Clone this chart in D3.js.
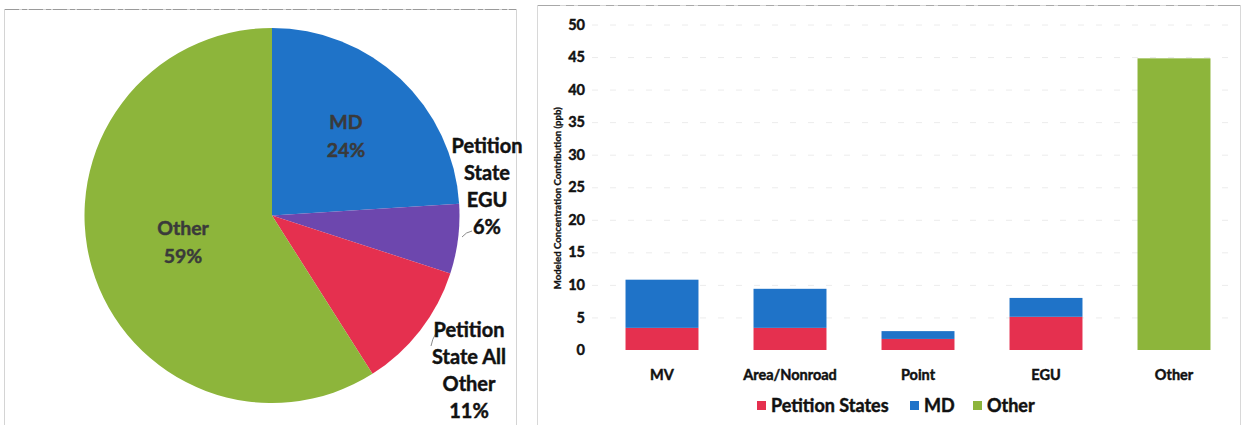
<!DOCTYPE html>
<html>
<head>
<meta charset="utf-8">
<script src="https://cdn.jsdelivr.net/npm/d3@7"></script>
<style>
  html, body { margin: 0; padding: 0; background: #fff; }
  svg { display: block; font-family: Lato, "Open Sans", sans-serif; }
  .heavy { stroke-width: 0.45px; paint-order: stroke; }
</style>
</head>
<body>
<svg id="chart" width="1242" height="425"></svg>
<script>
// Share of modeled concentration by source (percent)
const pieLabels = ["MD", "Petition State EGU", "Petition State All Other", "Other"];
const pieValues = [24, 6, 11, 59];
const pieColors = ["#1f73c8", "#6d47ae", "#e5304f", "#8db53b"];

// Stacked contributions by sector (ppb)
const sectors = ["MV", "Area/Nonroad", "Point", "EGU", "Other"];
const petitionStates = [3.4, 3.4, 1.7, 5.1, 0];
const md = [7.4, 6.0, 1.2, 2.9, 0];
const other = [0, 0, 0, 0, 44.8];
const seriesNames = ["Petition States", "MD", "Other"];
const seriesColors = ["#e5304f", "#1f73c8", "#8db53b"];
const yTicks = [0, 5, 10, 15, 20, 25, 30, 35, 40, 45, 50];

const svg = d3.select("#chart");

// Panel frames
svg.append("rect").attr("x", 4.5).attr("y", 9.5).attr("width", 512).attr("height", 420)
  .attr("fill", "none").attr("stroke", "#d4d4d4");
svg.append("line").attr("x1", 5).attr("x2", 516).attr("y1", 9.5).attr("y2", 9.5)
  .attr("stroke", "#9a9a9a").attr("stroke-dasharray", "14 3 5 2");
svg.append("rect").attr("x", 537.5).attr("y", 5.5).attr("width", 703).attr("height", 424)
  .attr("fill", "none").attr("stroke", "#d8d8d8");
svg.append("line").attr("x1", 538).attr("x2", 1240).attr("y1", 5.5).attr("y2", 5.5)
  .attr("stroke", "#a8a8a8").attr("stroke-dasharray", "22 6 8 4");

// ---- Pie ----
const cx = 272, cy = 215.5, r = 187.5;
const pie = d3.pie().sort(null).value(d => d)(pieValues);
const arc = d3.arc().innerRadius(0).outerRadius(r);
const gPie = svg.append("g").attr("transform", `translate(${cx},${cy})`);
gPie.selectAll("path").data(pie).join("path")
  .attr("d", arc)
  .attr("fill", (d, i) => pieColors[i]);

// Inside labels
const inner = [
  { i: 0, lines: ["MD", pieValues[0] + "%"], x: 346, y: 129 },
  { i: 3, lines: ["Other", pieValues[3] + "%"], x: 183, y: 235 }
];
inner.forEach(l => {
  const t = svg.append("text").attr("class", "heavy").attr("text-anchor", "middle")
    .attr("font-size", 19.5).attr("font-weight", 700).attr("fill", "#3a3a3a").attr("stroke", "#3a3a3a");
  l.lines.forEach((s, k) => t.append("tspan").attr("x", l.x).attr("y", l.y + k * 28).text(s));
});

// Outside labels with leader lines
const outer = [
  { lines: ["Petition", "State", "EGU", pieValues[1] + "%"], x: 487, y: 153, leader: "M462,237 Q466,232 472,231" },
  { lines: ["Petition", "State All", "Other", pieValues[2] + "%"], x: 469, y: 337, leader: "M431,346 Q434,331 442,330" }
];
outer.forEach(l => {
  svg.append("path").attr("d", l.leader).attr("fill", "none").attr("stroke", "#8a8a8a").attr("stroke-width", 1);
  const t = svg.append("text").attr("class", "heavy").attr("text-anchor", "middle")
    .attr("font-size", 20).attr("font-weight", 700).attr("fill", "#111").attr("stroke", "#111");
  l.lines.forEach((s, k) => t.append("tspan").attr("x", l.x).attr("y", l.y + k * 27).text(s));
});

// ---- Stacked bars ----
const x = d3.scaleBand().domain(sectors).range([598, 1238]).paddingInner(0.43).paddingOuter(0.215);
const y = d3.scaleLinear().domain([0, 50]).range([350, 24.5]);

// Gridlines
svg.append("g").selectAll("line").data(yTicks.filter(v => v > 0)).join("line")
  .attr("x1", 592).attr("x2", 1236)
  .attr("y1", d => y(d) + 0.5).attr("y2", d => y(d) + 0.5)
  .attr("stroke", "#ececec").attr("stroke-dasharray", "6 12");

// Y axis tick labels
const yAxis = d3.axisLeft(y).tickValues(yTicks).tickSize(0).tickPadding(0);
const gy = svg.append("g").attr("transform", "translate(585,0)").call(yAxis);
gy.select(".domain").remove();
gy.selectAll("text").attr("class", "heavy").attr("font-size", 14.5).attr("font-weight", 700)
  .attr("fill", "#111").attr("stroke", "#111").attr("font-family", "Lato, sans-serif");

// Y axis title
svg.append("text")
  .attr("class", "heavy")
  .attr("transform", `translate(561,${y(25) + 11}) rotate(-90)`)
  .attr("text-anchor", "middle").attr("font-size", 9.6).attr("font-weight", 700)
  .attr("fill", "#111").attr("stroke", "#111").style("stroke-width", "0.3px")
  .text("Modeled Concentration Contribution (ppb)");

const rows = sectors.map((s, i) => ({ sector: s, "Petition States": petitionStates[i], "MD": md[i], "Other": other[i] }));
const stack = d3.stack().keys(seriesNames)(rows);
svg.append("g").selectAll("g").data(stack).join("g")
  .attr("fill", (d, i) => seriesColors[i])
  .selectAll("rect").data(d => d.filter(p => p[1] > p[0])).join("rect")
  .attr("x", d => x(d.data.sector))
  .attr("width", x.bandwidth())
  .attr("y", d => y(d[1]))
  .attr("height", d => y(d[0]) - y(d[1]));

// X axis labels
const xAxis = d3.axisBottom(x).tickSize(0).tickPadding(0);
const gx = svg.append("g").attr("transform", "translate(0,370)").call(xAxis);
gx.select(".domain").remove();
gx.selectAll("text").attr("class", "heavy").attr("font-size", 14.5).attr("font-weight", 700)
  .attr("fill", "#111").attr("stroke", "#111").attr("font-family", "Lato, sans-serif");

// Legend
const legendX = [757, 910, 973];
const gl = svg.append("g");
seriesNames.forEach((n, i) => {
  gl.append("rect").attr("x", legendX[i]).attr("y", 401).attr("width", 9).attr("height", 9).attr("fill", seriesColors[i]);
  gl.append("text").attr("class", "heavy").attr("x", legendX[i] + 14).attr("y", 412)
    .attr("font-size", 18).attr("font-weight", 700).attr("fill", "#111").attr("stroke", "#111").text(n);
});
</script>
</body>
</html>
